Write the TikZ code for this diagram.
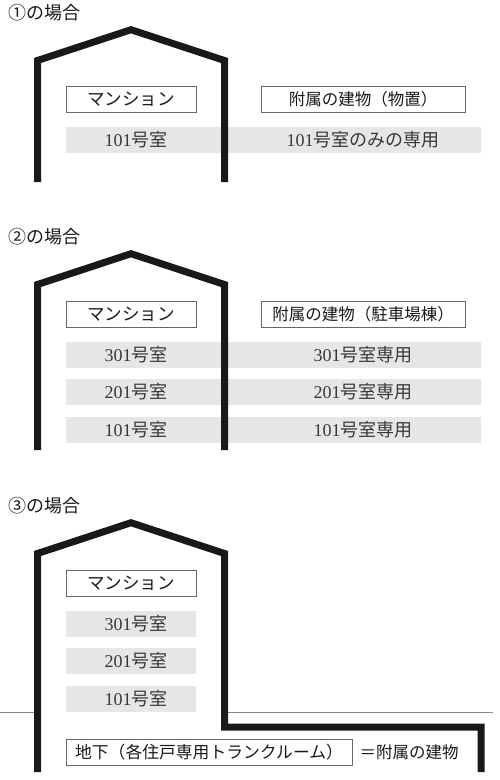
\documentclass[tikz,border=0pt]{standalone}
\usepackage{fontspec}
\setmainfont{Noto Sans CJK JP}
\newfontfamily\serifdig{Liberation Serif}
\definecolor{barg}{HTML}{E6E6E7}
\definecolor{boxline}{HTML}{666666}
\definecolor{groundg}{HTML}{8A8A8A}
\newcommand\roomtxt[2]{{\serifdig #1}#2}
\tikzset{
  wall/.style={line width=7pt, line join=miter, black!90},
  labelbox/.style={draw=boxline, line width=0.8pt, minimum height=26pt, inner sep=0pt,
    font=\fontsize{17.5}{17.5}\selectfont, text=black!90},
  widebox/.style={labelbox, font=\fontsize{16.5}{16.5}\selectfont},
  barbox/.style={fill=barg, draw=none, minimum height=26pt, inner sep=0pt},
  roomlabel/.style={inner sep=0pt, font=\fontsize{18}{18}\selectfont, text=black!78},
  plainlabel/.style={inner sep=0pt, font=\fontsize{16.5}{16.5}\selectfont, text=black!90},
  titlelabel/.style={inner sep=0pt, anchor=west, font=\fontsize{18}{18}\selectfont, text=black!90},
  ground/.style={draw=groundg, line width=0.8pt}
}
\begin{document}
\begin{tikzpicture}[x=1pt,y=-1pt]
\useasboundingbox (0,0) rectangle (500,780);
% ---------- Case 1 ----------
\node[titlelabel] (t1) at (8,13) {①の場合};
\node[barbox, minimum width=415pt] (s1bar) at (273.5,140) {};
\draw[wall] (37.5,182) -- (37.5,60.5) -- (131,29.7) -- (224.5,60.5) -- (224.5,182);
\node[labelbox, minimum width=130pt] (s1m) at (131,99) {マンション};
\node[widebox, minimum width=204pt] (s1a) at (363,99) {附属の建物（物置）};
\node[roomlabel] (s1r1) at (136,140) {\roomtxt{101}{号室}};
\node[roomlabel] (s1r2) at (363,140) {\roomtxt{101}{号室のみの専用}};
% ---------- Case 2 ----------
\node[titlelabel] (t2) at (8,237) {②の場合};
\node[barbox, minimum width=415pt] (s2b3) at (273.5,355) {};
\node[barbox, minimum width=415pt] (s2b2) at (273.5,392) {};
\node[barbox, minimum width=415pt] (s2b1) at (273.5,430) {};
\draw[wall] (37.5,450) -- (37.5,284.5) -- (131,253.7) -- (224.5,284.5) -- (224.5,450);
\node[labelbox, minimum width=130pt] (s2m) at (131,314) {マンション};
\node[widebox, minimum width=204pt] (s2a) at (363,314) {附属の建物（駐車場棟）};
\node[roomlabel] (s2r3) at (136,355) {\roomtxt{301}{号室}};
\node[roomlabel] (s2r2) at (136,392) {\roomtxt{201}{号室}};
\node[roomlabel] (s2r1) at (136,430) {\roomtxt{101}{号室}};
\node[roomlabel] (s2p3) at (363,355) {\roomtxt{301}{号室専用}};
\node[roomlabel] (s2p2) at (363,392) {\roomtxt{201}{号室専用}};
\node[roomlabel] (s2p1) at (363,430) {\roomtxt{101}{号室専用}};
% ---------- Case 3 ----------
\node[titlelabel] (t3) at (8,506) {③の場合};
\draw[ground] (0,712) -- (34,712);
\draw[ground] (228,712) -- (493,712);
\node[barbox, minimum width=130pt] (s3b3) at (131,624) {};
\node[barbox, minimum width=130pt] (s3b2) at (131,661) {};
\node[barbox, minimum width=130pt] (s3b1) at (131,699) {};
\draw[wall] (37.5,772) -- (37.5,553.5) -- (131,522.7) -- (224.5,553.5) -- (224.5,727) -- (481,727) -- (481,772);
\node[labelbox, minimum width=130pt] (s3m) at (131,583) {マンション};
\node[roomlabel] (s3r3) at (136,624) {\roomtxt{301}{号室}};
\node[roomlabel] (s3r2) at (136,661) {\roomtxt{201}{号室}};
\node[roomlabel] (s3r1) at (136,699) {\roomtxt{101}{号室}};
\node[labelbox, font=\fontsize{16.8}{16.8}\selectfont, minimum width=286pt] (s3base) at (209,752) {地下（各住戸専用トランクルーム）};
\node[plainlabel] (s3eq) at (409,752) {＝附属の建物};
\end{tikzpicture}
\end{document}
